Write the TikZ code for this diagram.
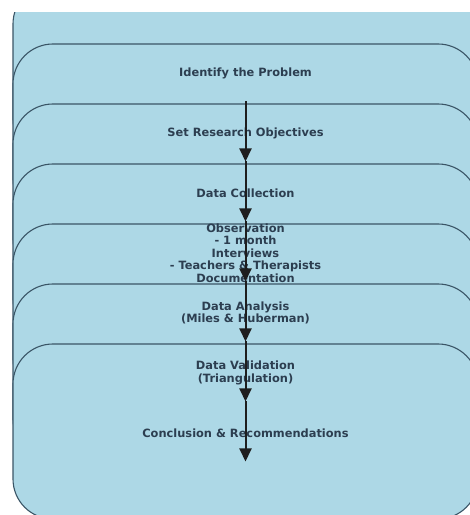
\documentclass[tikz,border=0pt]{standalone}
\usepackage{fontspec}
\setmainfont{DejaVu Sans}
\usetikzlibrary{arrows.meta}
\definecolor{boxfill}{HTML}{ADD8E6}
\definecolor{boxedge}{HTML}{3A5566}
\definecolor{txt}{HTML}{2C3E50}
\definecolor{arr}{HTML}{1E1E1E}
\tikzset{
  stagebox/.style={draw=boxedge, line width=1.1pt, fill=boxfill, rounded corners=40pt,
    minimum width=465pt, minimum height=175pt, inner sep=0pt},
  stagetext/.style={inner sep=0pt, align=center, text=txt, yshift=-1.5pt,
    font=\fontsize{11.4pt}{12.5pt}\selectfont\bfseries},
  flowarrow/.style={draw=arr, line width=2pt, -{Triangle[length=13pt,width=12pt]}}
}
\begin{document}
\begin{tikzpicture}[x=1pt,y=1pt]
\useasboundingbox (0,0) rectangle (470,515);
\begin{scope}
\clip (12,0) rectangle (470,502);
\foreach \i in {1,...,7} {
  \node[stagebox] (b\i) at (245.5,503.5-60*\i) {};
}
\end{scope}
\node[stagetext] (t1) at (b1.center) {Identify the Problem};
\node[stagetext] (t2) at (b2.center) {Set Research Objectives};
\node[stagetext] (t3) at (b3.center) {Data Collection};
\node[stagetext] (t4) at (b4.center) {Observation\\- 1 month\\Interviews\\- Teachers \& Therapists\\Documentation};
\node[stagetext] (t5) at (b5.center) {Data Analysis\\(Miles \& Huberman)};
\node[stagetext] (t6) at (b6.center) {Data Validation\\(Triangulation)};
\node[stagetext] (t7) at (b7.center) {Conclusion \& Recommendations};
\foreach \a/\b in {b1/b2,b2/b3,b3/b4,b4/b5,b5/b6,b6/b7} {
  \draw[flowarrow] ([yshift=-30pt]\a.center) -- ([yshift=-30pt]\b.center);
}
\end{tikzpicture}
\end{document}
